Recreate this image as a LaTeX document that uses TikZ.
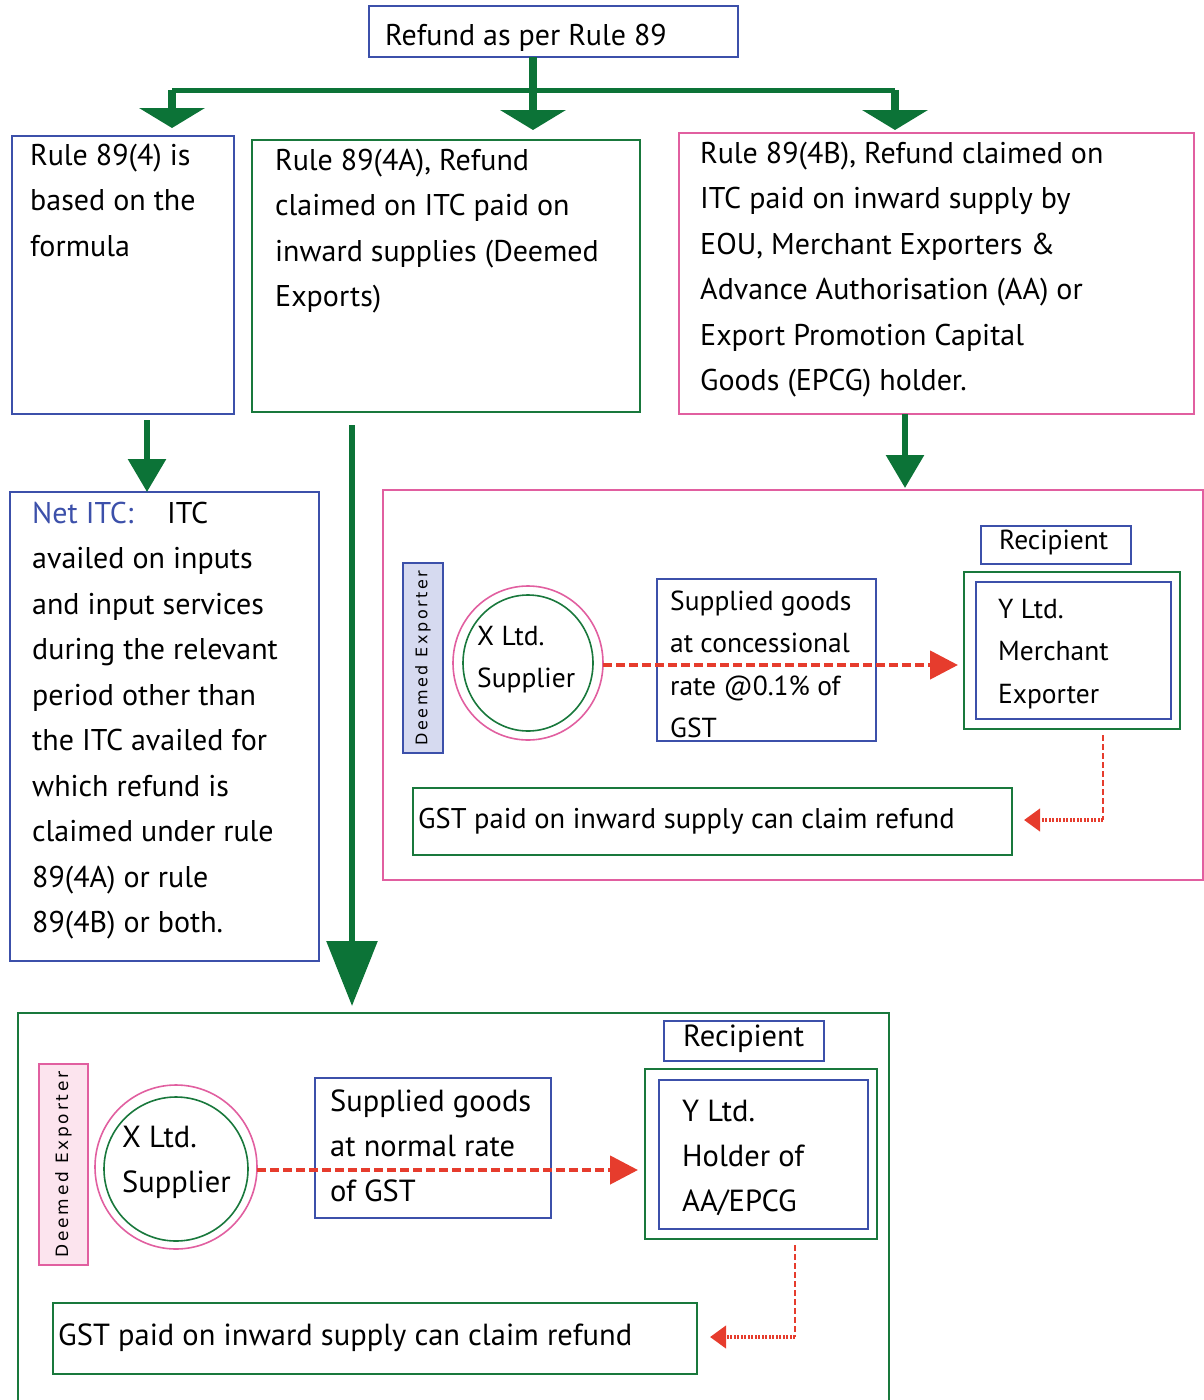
\documentclass[tikz,border=0pt]{standalone}
\usepackage{fontspec}
\setmainfont{PT Sans}
\newfontfamily\spaced[LetterSpace=16]{DejaVu Sans}
\usetikzlibrary{arrows.meta, shapes.geometric}
\definecolor{bl}{RGB}{60,80,170}
\definecolor{gr}{RGB}{25,120,60}
\definecolor{ar}{RGB}{12,115,55}
\definecolor{pk}{RGB}{225,95,160}
\definecolor{rd}{RGB}{230,60,45}
\definecolor{lav}{RGB}{214,218,240}
\definecolor{pfill}{RGB}{252,228,238}
\tikzset{
    box/.style={draw, line width=1.6pt, anchor=north west, inner sep=0, outer sep=0},
    bbox/.style={style=box, draw=bl},
    gbox/.style={style=box, draw=gr},
    pbox/.style={style=box, draw=pk},
    t/.style={anchor=base west, inner sep=0, align=left, font=\fontsize{30}{45.5}\selectfont}, % texts, placed at the last baseline
    ts/.style={style=t, font=\fontsize{27.5}{42.5}\selectfont},
    tb/.style={style=t, font=\fontsize{30.5}{45}\selectfont},
    vert/.style={rotate=90, inner sep=0, font=\spaced\fontsize{16}{20}\selectfont},
    gbar/.style={draw=ar, line width=5pt},
    garrow/.style={draw=ar, line width=8pt, -{Triangle[width=65pt, length=20pt]}},
    gdown/.style={draw=ar, line width=6pt, -{Triangle[width=37pt, length=33pt]}},
    rarrow/.style={draw=rd, line width=4.5pt, dash pattern=on 9pt off 4pt, -{Triangle[width=28pt, length=28pt]}},
    rdash/.style={draw=rd, line width=2pt, dash pattern=on 6pt off 3pt},
    rdot/.style={draw=rd, line width=4pt, dash pattern=on 2pt off 1.5pt, -{Triangle[width=22pt, length=16pt]}}
}

\begin{document}
\begin{tikzpicture}[x=1pt, y=-1pt]
  \useasboundingbox (0,0) rectangle (1204,1400);

  % top row
  \node[bbox, minimum width=369, minimum height=51] (top) at (369,6) {};
  \node[t] (toptxt) at (385,45) {Refund as per Rule 89};

  \node[bbox, minimum width=222, minimum height=278] (ra) at (12,136) {};
  \node[t] (ratxt) at (30,256) {Rule 89(4) is\\based on the\\formula};
  \node[gbox, minimum width=388, minimum height=272] (rb) at (252,140) {};
  \node[t] (rbtxt) at (275,306.5) {Rule 89(4A), Refund\\claimed on ITC paid on\\inward supplies (Deemed\\Exports)};
  \node[pbox, minimum width=515, minimum height=281] (rc) at (679,133) {};
  \node[t] (rctxt) at (700,390.5) {Rule 89(4B), Refund claimed on\\ITC paid on inward supply by\\EOU, Merchant Exporters \&\\Advance Authorisation (AA) or\\Export Promotion Capital\\Goods (EPCG) holder.};

  \coordinate (bus) at (533,90);
  \coordinate (busL) at (172,90);
  \coordinate (busR) at (895,90);
  \draw[gbar] (busL) -- (busR);
  \draw[draw=ar, line width=8pt] (bus |- top.south) -- (bus);
  \draw[garrow] (busL) -- ([yshift=8pt]ra.north -| busL);
  \draw[garrow] (bus) -- ([yshift=10pt]rb.north -| bus);
  \draw[garrow] (busR) -- ([yshift=3pt]rc.north -| busR);

  % net ITC
  \node[bbox, minimum width=309, minimum height=469] (net) at (10,492) {};
  \node[t] (nettxt) at (32,932.5) {\makebox[135pt][l]{\textcolor{bl}{Net ITC:}}ITC\\availed on inputs\\and input services\\during the relevant\\period other than\\the ITC availed for\\which refund is\\claimed under rule\\89(4A) or rule\\89(4B) or both.};
  \draw[gdown] ([yshift=-6pt]ra.south -| 147,0) -- (net.north -| 147,0);

  % merchant exporter
  \node[pbox, minimum width=820, minimum height=390] (me) at (383,490) {};
  \draw[gdown] (rc.south -| 905,0) -- ([yshift=2pt]me.north -| 905,0);
  \node[box, draw=bl, fill=lav, minimum width=40, minimum height=190] (mded) at (403,563) {};
  \node[vert] (mdedtxt) at (mded.center) {Deemed Exporter};
  \draw[pk, line width=1.6pt] (528,663) ellipse [x radius=75, y radius=77];
  \node[draw=gr, line width=1.6pt, ellipse, minimum width=130, minimum height=136, inner sep=0] (mx) at (528,663) {};
  \coordinate (mxo) at (603,665);
  \node[ts] (mxtxt) at (477,687.5) {X Ltd.\\Supplier};
  \node[bbox, minimum width=219, minimum height=162] (msup) at (657,579) {};
  \node[ts] (msuptxt) at (670,737.5) {Supplied goods\\at concessional\\rate @0.1\% of\\GST};
  \node[bbox, minimum width=150, minimum height=38] (mrec) at (981,526) {};
  \node[ts] (mrectxt) at (999,549) {Recipient};
  \node[gbox, minimum width=216, minimum height=157] (my) at (964,572) {};
  \node[bbox, minimum width=195, minimum height=137] (myin) at (976,582) {};
  \node[ts] (mytxt) at (998,703) {Y Ltd.\\Merchant\\Exporter};
  \node[gbox, minimum width=599, minimum height=67] (mclaim) at (413,788) {};
  \node[t, font=\fontsize{28.5}{30}\selectfont] (mclaimtxt) at (418,828) {GST paid on inward supply can claim refund};
  \draw[rarrow] (mxo) -- ([xshift=-6pt]mxo -| my.west);
  \coordinate (mturn) at (1103,820);
  \draw[rdash] ([yshift=-6pt]my.south -| mturn) -- (mturn);
  \draw[rdot] (mturn) -- ([xshift=12pt]mclaim.east |- mturn);

  % holder of AA/EPCG
  \draw[gdown, line width=6pt, -{Triangle[width=50pt, length=65pt]}] (352,425) -- (352,1006);
  \draw[draw=gr, line width=1.6pt] (18,1400) |- (889,1013) -- (889,1400);
  \node[box, draw=pk, fill=pfill, minimum width=49, minimum height=201] (hded) at (39,1064) {};
  \node[vert, font=\spaced\fontsize{17}{20}\selectfont] (hdedtxt) at (hded.center) {Deemed Exporter};
  \draw[pk, line width=1.6pt] (176,1167) ellipse [x radius=81, y radius=82];
  \node[draw=gr, line width=1.6pt, ellipse, minimum width=144, minimum height=144, inner sep=0] (hx) at (176,1169) {};
  \coordinate (hxo) at (257,1170);
  \node[tb] (hxtxt) at (122,1192) {X Ltd.\\Supplier};
  \node[bbox, minimum width=236, minimum height=140] (hsup) at (315,1078) {};
  \node[tb] (hsuptxt) at (330,1201) {Supplied goods\\at normal rate\\of GST};
  \node[bbox, minimum width=160, minimum height=40] (hrec) at (664,1021) {};
  \node[tb] (hrectxt) at (683,1046) {Recipient};
  \node[gbox, minimum width=232, minimum height=170] (hy) at (645,1069) {};
  \node[bbox, minimum width=209, minimum height=149] (hyin) at (659,1080) {};
  \node[tb] (hytxt) at (682,1211) {Y Ltd.\\Holder of\\AA/EPCG};
  \node[gbox, minimum width=644, minimum height=71] (hclaim) at (53,1303) {};
  \node[tb] (hclaimtxt) at (58,1345) {GST paid on inward supply can claim refund};
  \draw[rarrow] (hxo) -- ([xshift=-7pt]hxo -| hy.west);
  \coordinate (hturn) at (795,1337);
  \draw[rdash] ([yshift=-6pt]hy.south -| hturn) -- (hturn);
  \draw[rdot] (hturn) -- ([xshift=13pt]hclaim.east |- hturn);
\end{tikzpicture}
\end{document}
